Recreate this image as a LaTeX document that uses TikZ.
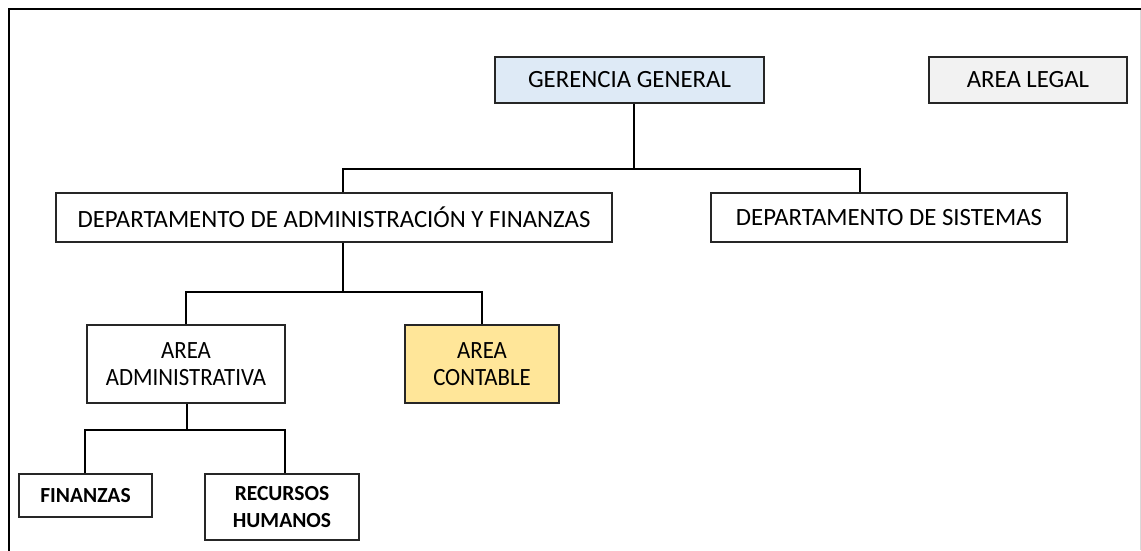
\documentclass[tikz,border=0pt]{standalone}
\usepackage{fontspec}
\setmainfont{Carlito}
\newfontfamily\narrowfont[FakeStretch=0.92]{Carlito}
\definecolor{gblue}{HTML}{DEEAF6}
\definecolor{ggray}{HTML}{F2F2F2}
\definecolor{gyell}{HTML}{FFE699}
\definecolor{edge}{HTML}{262626}
\begin{document}
\begin{tikzpicture}[x=1pt,y=-1pt,
  box/.style={draw=edge,line width=1.4pt,inner sep=0pt,align=center,font=\fontsize{24.8}{28}\selectfont},
  mbox/.style={box,font=\narrowfont\fontsize{24.8}{26.5}\selectfont},
  sbox/.style={box,font=\fontsize{21.5}{27}\selectfont\bfseries},
  conn/.style={draw=black,line width=1.3pt}]
\useasboundingbox (0,0) rectangle (1141,550);
\fill[white] (0,0) rectangle (1141,550);
% frame
\draw[line width=1.6pt,black] (9,560) -- (9,9) -- (1141,9);
\draw[line width=1pt,black!15] (1140,10) -- (1140,550);
% nodes
\node[box,fill=gblue,minimum width=269pt,minimum height=46pt] (gg) at (629.5,80) {GERENCIA GENERAL};
\node[box,fill=ggray,minimum width=198pt,minimum height=46pt] (al) at (1028,80) {AREA LEGAL};
\node[box,minimum width=556pt,minimum height=49pt] (daf) at (334,217.5) {DEPARTAMENTO DE ADMINISTRACIÓN Y FINANZAS};
\node[box,minimum width=356pt,minimum height=49pt] (ds) at (889,217.5) {DEPARTAMENTO DE SISTEMAS};
\node[mbox,minimum width=198pt,minimum height=78pt] (aa) at (186,364) {AREA\\ADMINISTRATIVA};
\node[mbox,fill=gyell,minimum width=154pt,minimum height=78pt] (ac) at (482,364) {AREA\\CONTABLE};
\node[sbox,minimum width=133pt,minimum height=43pt] (fin) at (85.5,495.5) {FINANZAS};
\node[sbox,minimum width=154pt,minimum height=66pt] (rh) at (282,507) {RECURSOS\\HUMANOS};
% connectors
\coordinate (b1) at (634,169);
\coordinate (b2) at (343,292);
\coordinate (b3) at (187,430);
\draw[conn] (gg.south -| b1) -- (b1);
\draw[conn] (daf.north -| 343,0) -- (343,169) -- (860,169) -- (ds.north -| 860,0);
\draw[conn] (daf.south -| b2) -- (b2);
\draw[conn] (aa.north -| 186,0) -- (186,292) -- (482,292) -- (ac.north);
\draw[conn] (aa.south -| b3) -- (b3);
\draw[conn] (fin.north -| 85,0) -- (85,430) -- (285,430) -- (rh.north -| 285,0);
\end{tikzpicture}
\end{document}
